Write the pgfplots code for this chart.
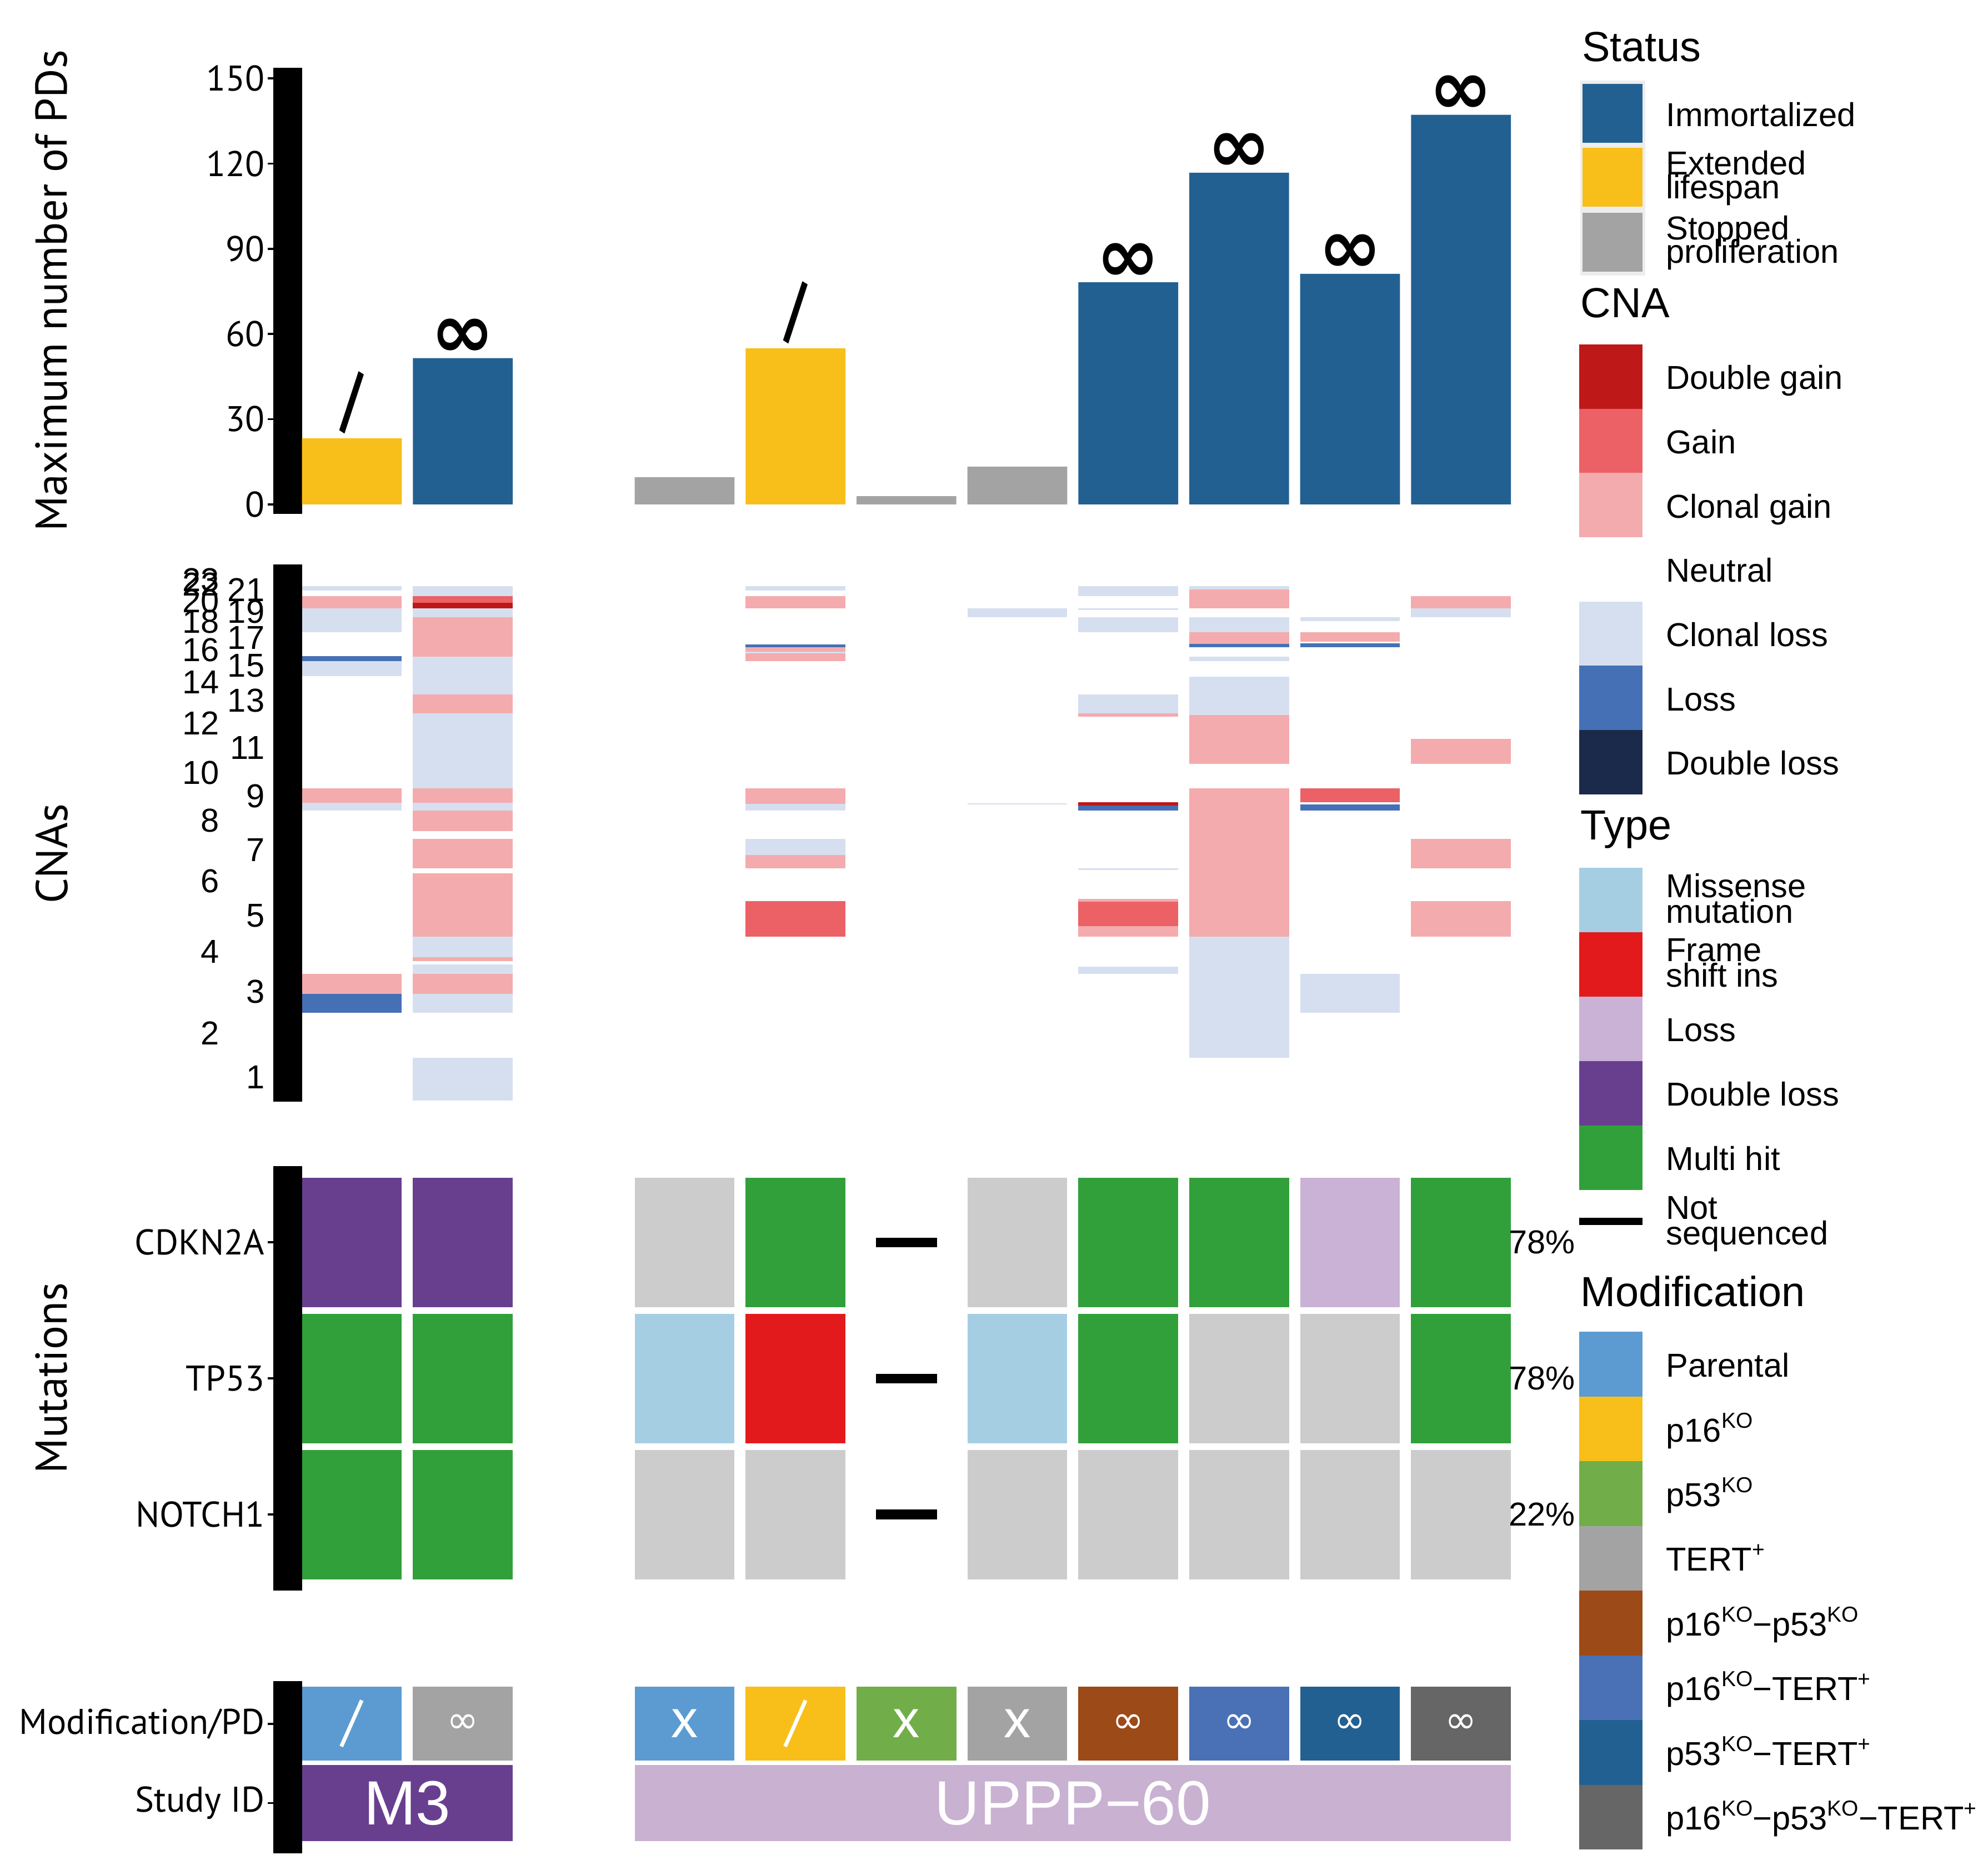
\documentclass[border=0pt]{standalone}
\usepackage{pgfplots}
\pgfplotsset{compat=1.18}
\usepackage{fontspec}
\setmainfont{Liberation Sans}
\newfontfamily\pts{PT Sans}
\newfontfamily\djv{DejaVu Sans}

% status
\definecolor{immort}{HTML}{236092}
\definecolor{ext}{HTML}{F8BF1A}
\definecolor{stopped}{HTML}{A3A3A3}
% CNA
\definecolor{dgain}{HTML}{BE1818}
\definecolor{gain}{HTML}{EB6166}
\definecolor{cgain}{HTML}{F4ABAD}
\definecolor{closs}{HTML}{D6DFEF}
\definecolor{loss}{HTML}{4570B5}
\definecolor{dloss}{HTML}{1B2A4A}
% mutation type
\definecolor{missense}{HTML}{A6CEE3}
\definecolor{frameshift}{HTML}{E31A1C}
\definecolor{mloss}{HTML}{CAB2D6}
\definecolor{mdloss}{HTML}{683F8F}
\definecolor{multihit}{HTML}{31A03A}
\definecolor{nomut}{HTML}{CCCCCC}
% modification
\definecolor{parental}{HTML}{5B9BD1}
\definecolor{pko}{HTML}{F8BF1A}
\definecolor{ptfko}{HTML}{71AE49}
\definecolor{tert}{HTML}{A3A3A3}
\definecolor{psp}{HTML}{9C4A17}
\definecolor{pst}{HTML}{4A71B5}
\definecolor{ptt}{HTML}{236092}
\definecolor{pall}{HTML}{666666}
% study
\definecolor{mthree}{HTML}{683F8F}
\definecolor{uppp}{HTML}{C9B1D2}

\pgfdeclareplotmark{mutcell}{\pgfpathrectangle{\pgfpoint{-19.58pt}{-25.4pt}}{\pgfpoint{39.16pt}{50.8pt}}\pgfusepathqfill}
\pgfdeclareplotmark{modcell}{\pgfpathrectangle{\pgfpoint{-19.58pt}{-14.55pt}}{\pgfpoint{39.16pt}{29.1pt}}\pgfusepathqfill}
\pgfdeclareplotmark{nsdash}{\pgfpathrectangle{\pgfpoint{-12pt}{-1.875pt}}{\pgfpoint{24pt}{3.75pt}}\pgfusepathqfill}

\pgfplotsset{
  panel/.style={
    scale only axis, width=474.3pt, anchor=south west,
    xmin=0.55, xmax=11.45, xtick=\empty,
    axis x line=none, axis y line*=left, y axis line style={draw=none},
    clip=false, tick align=inside, major tick length=2.25pt,
    ytick style={xshift=-13.5pt, line width=0.8pt, black},
    yticklabel style={anchor=east, inner sep=0pt, xshift=-14.5pt, font=\pts\fontsize{14}{16}\selectfont},
    /pgf/number format/assume math mode=true,
    every axis y label/.style={at={(rel axis cs:0,0.5)}, xshift=-98.25pt, rotate=90, anchor=center, font=\pts\fontsize{17.5}{20}\selectfont},
  },
  cna/.style={line width=39.16pt, unbounded coords=jump},
  mut/.style={only marks, mark=mutcell, mark options={fill=#1}},
  mod/.style={only marks, mark=modcell, mark options={fill=#1}},
}
\newcommand\blackbar{\fill[black] ([xshift=-11.25pt]rel axis cs:0,0) rectangle (rel axis cs:0,1);}
\newcommand\legfont{\fontsize{13}{14}\selectfont}
\newcommand\legtitle{\fontsize{16.5}{18}\selectfont}
\newcommand\ko{\raisebox{0.42em}{\fontsize{8.5}{9}\selectfont KO}}
\newcommand\plus{\raisebox{0.42em}{\fontsize{8.5}{9}\selectfont +}}

\begin{document}
\begin{tikzpicture}
\useasboundingbox (0,0) rectangle (780pt,-735.5pt);

% ---------------- maximum number of PDs
\begin{axis}[panel, at={(118.5pt,-201.55pt)}, height=175pt,
  ymin=-3.32, ymax=153.8, ytick={0,30,...,150},
  ylabel={Maximum number of PDs}]
\blackbar
\addplot[ybar, bar width=0.9, bar shift=0pt, fill=stopped, draw=none]
  coordinates {(4,9.6) (6,2.9) (7,13.3)};
\addplot[ybar, bar width=0.9, bar shift=0pt, fill=ext, draw=none,
  nodes near coords, point meta=explicit symbolic,
  every node near coord/.append style={anchor=south, inner sep=0pt, yshift=1.5pt, text=black, font=\pts\bfseries\fontsize{25}{25}\selectfont}]
  coordinates {(1,23.3)[{\scalebox{0.85}[1.15]{/}}] (5,55.0)[{\scalebox{0.85}[1.15]{/}}]};
\addplot[ybar, bar width=0.9, bar shift=0pt, fill=immort, draw=none,
  nodes near coords, point meta=explicit symbolic,
  every node near coord/.append style={anchor=south, inner sep=0pt, text=black, font=\djv\bfseries\fontsize{30}{30}\selectfont}]
  coordinates {(2,51.5)[∞] (8,78.2)[∞] (9,116.8)[∞] (10,81.2)[∞] (11,137.2)[∞]};
\end{axis}

% ---------------- CNAs
\begin{axis}[panel, at={(118.5pt,-432.25pt)}, height=210.75pt,
  ymin=0, ymax=2865, major tick length=0pt,
  ytick={131,587,994,1343,1630,1887,2140,2325,2476,2615,2732},
  yticklabels={1,3,5,7,9,11,13,15,17,19,21},
  extra y ticks={367,800,1176,1499,1754,2020,2238,2409,2561,2670,2761,2784},
  extra y tick labels={2,4,6,8,10,12,14,16,18,20,22,23},
  extra y tick style={yticklabel style={xshift=-17.7pt}},
  yticklabel style={font=\fontsize{13}{14}\selectfont},
  ylabel={CNAs},
  every axis y label/.append style={at={(rel axis cs:0,0.462)}}]
\blackbar
\addplot[cna, closs] coordinates {
 (1,2751)(1,2728)(1,nan) (1,2631)(1,2504)(1,nan) (1,2352)(1,2270)(1,nan) (1,1596)(1,1554)(1,nan)
 (2,2751)(2,2698)(2,nan) (2,2631)(2,2584)(2,nan) (2,2373)(2,2174)(2,nan) (2,2071)(2,1672)(2,nan)
 (2,1596)(2,1554)(2,nan) (2,882)(2,770)(2,nan) (2,732)(2,684)(2,nan) (2,576)(2,475)(2,nan) (2,234)(2,6)(2,nan)
 (5,2751)(5,2728)(5,nan) (5,2400)(5,2392)(5,nan) (5,1588)(5,1554)(5,nan) (5,1402)(5,1316)(5,nan)
 (7,2631)(7,2584)(7,nan) (7,1592)(7,1587)(7,nan)
 (8,2751)(8,2698)(8,nan) (8,2631)(8,2624)(8,nan) (8,2584)(8,2504)(8,nan) (8,2174)(8,2071)(8,nan)
 (8,1246)(8,1237)(8,nan) (8,722)(8,684)(8,nan)
 (9,2751)(9,2732)(9,nan) (9,2584)(9,2504)(9,nan) (9,2373)(9,2352)(9,nan) (9,2269)(9,2063)(9,nan) (9,882)(9,234)(9,nan)
 (10,2584)(10,2565)(10,nan) (10,684)(10,475)(10,nan)
 (11,2631)(11,2584)};
\addplot[cna, cgain] coordinates {
 (1,2698)(1,2631)(1,nan) (1,1672)(1,1596)(1,nan) (1,684)(1,576)(1,nan)
 (2,2584)(2,2373)(2,nan) (2,2174)(2,2071)(2,nan) (2,1672)(2,1596)(2,nan) (2,1554)(2,1444)(2,nan)
 (2,1402)(2,1246)(2,nan) (2,1220)(2,882)(2,nan) (2,770)(2,752)(2,nan) (2,684)(2,576)(2,nan)
 (5,2698)(5,2631)(5,nan) (5,2426)(5,2400)(5,nan) (5,2392)(5,2352)(5,nan) (5,1672)(5,1588)(5,nan) (5,1316)(5,1246)(5,nan)
 (8,2071)(8,2054)(8,nan) (8,1083)(8,1068)(8,nan) (8,937)(8,882)(8,nan)
 (9,2732)(9,2631)(9,nan) (9,2504)(9,2443)(9,nan) (9,2063)(9,1801)(9,nan) (9,1672)(9,882)(9,nan)
 (10,2504)(10,2453)(10,nan)
 (11,2698)(11,2631)(11,nan) (11,1936)(11,1801)(11,nan) (11,1402)(11,1246)(11,nan) (11,1070)(11,882)};
\addplot[cna, gain] coordinates {
 (2,2698)(2,2662)(2,nan) (5,1070)(5,882)(5,nan) (8,1068)(8,937)(8,nan) (10,1672)(10,1598)};
\addplot[cna, dgain] coordinates {
 (2,2662)(2,2631)(2,nan) (8,1598)(8,1581)};
\addplot[cna, loss] coordinates {
 (1,2377)(1,2352)(1,nan) (1,576)(1,475)(1,nan) (5,2438)(5,2426)(5,nan)
 (8,1581)(8,1554)(8,nan) (9,2443)(9,2426)(9,nan) (10,2445)(10,2426)(10,nan) (10,1585)(10,1554)};
\end{axis}

% ---------------- mutations
\begin{axis}[panel, at={(118.5pt,-623.9pt)}, height=166.55pt,
  ymin=0.442, ymax=3.562, ytick={1,2,3}, yticklabels={NOTCH1,TP53,CDKN2A},
  ylabel={Mutations}]
\blackbar
\addplot[mut=nomut] coordinates {(4,3) (7,3) (9,2) (10,2)
  (4,1) (5,1) (7,1) (8,1) (9,1) (10,1) (11,1)};
\addplot[mut=multihit] coordinates {(5,3) (8,3) (9,3) (11,3) (1,2) (2,2) (8,2) (11,2) (1,1) (2,1)};
\addplot[mut=mdloss] coordinates {(1,3) (2,3)};
\addplot[mut=mloss] coordinates {(10,3)};
\addplot[mut=missense] coordinates {(4,2) (7,2)};
\addplot[mut=frameshift] coordinates {(5,2)};
\addplot[only marks, mark=nsdash, mark options={fill=black}] coordinates {(6,3) (6,2) (6,1)};
\addplot[draw=none, nodes near coords, point meta=explicit symbolic,
  every node near coord/.append style={anchor=west, inner sep=0pt, xshift=-1pt, text=black, font=\fontsize{13}{14}\selectfont}]
  coordinates {(11.45,3)[78\%] (11.45,2)[78\%] (11.45,1)[22\%]};
\end{axis}

% ---------------- modification / study
\begin{axis}[panel, at={(118.5pt,-727pt)}, height=67.5pt,
  ymin=0.369, ymax=2.536, ytick={1,2}, yticklabels={Study ID,Modification/PD}]
\blackbar
\addplot[line width=29.7pt, mthree] coordinates {(0.55,1) (2.45,1)};
\addplot[line width=29.7pt, uppp] coordinates {(3.55,1) (11.45,1)};
\addplot[mod=parental] coordinates {(1,2) (4,2)};
\addplot[mod=tert] coordinates {(2,2) (7,2)};
\addplot[mod=pko] coordinates {(5,2)};
\addplot[mod=ptfko] coordinates {(6,2)};
\addplot[mod=psp] coordinates {(8,2)};
\addplot[mod=pst] coordinates {(9,2)};
\addplot[mod=ptt] coordinates {(10,2)};
\addplot[mod=pall] coordinates {(11,2)};
\addplot[draw=none, nodes near coords, point meta=explicit symbolic,
  every node near coord/.append style={anchor=center, inner sep=0pt, text=white, font=\pts\fontsize{22}{22}\selectfont}]
  coordinates {(1,2)[/] (2,2)[{\djv\fontsize{15}{15}\selectfont ∞}] (4,2)[x] (5,2)[/] (6,2)[x] (7,2)[x]
  (8,2)[{\djv\fontsize{15}{15}\selectfont ∞}] (9,2)[{\djv\fontsize{15}{15}\selectfont ∞}]
  (10,2)[{\djv\fontsize{15}{15}\selectfont ∞}] (11,2)[{\djv\fontsize{15}{15}\selectfont ∞}]};
\addplot[draw=none, nodes near coords, point meta=explicit symbolic,
  every node near coord/.append style={anchor=center, inner sep=0pt, text=white, font=\fontsize{24.5}{25}\selectfont}]
  coordinates {(1.5,1)[M3] (7.5,1)[UPPP−60]};
\end{axis}

% ---------------- legend
\begin{scope}[x=0.5pt, y=-0.5pt, every node/.style={inner sep=0pt, anchor=base west}]
\node[font=\legtitle] at (1241,48) {Status};
\fill[black!7] (1240,63) rectangle (1291,216);
\fill[immort] (1242,66) rectangle (1289,112);
\fill[ext] (1242,116) rectangle (1289,162);
\fill[stopped] (1242,167) rectangle (1289,213);
\node[font=\legfont] at (1307,99) {Immortalized};
\node[font=\legfont] at (1307,137) {Extended};
\node[font=\legfont] at (1307,156) {lifespan};
\node[font=\legfont] at (1307,188) {Stopped};
\node[font=\legfont] at (1307,206.5) {proliferation};

\node[font=\legtitle] at (1240,249) {CNA};
\foreach \c/\t [count=\i from 0] in {dgain/Double gain, gain/Gain, cgain/Clonal gain,
    white/Neutral, closs/Clonal loss, loss/Loss, dloss/Double loss}{
  \fill[\c] (1239,270.3+50.4*\i) rectangle (1289,320.7+50.4*\i);
  \node[font=\legfont] at (1307,305.5+50.4*\i) {\t};
}

\node[font=\legtitle] at (1240,659) {Type};
\foreach \c [count=\i from 0] in {missense,frameshift,mloss,mdloss,multihit,white}{
  \fill[\c] (1239,680.7+50.55*\i) rectangle (1289,731.25+50.55*\i);
}
\fill[black] (1239,955.5) rectangle (1289,961);
\node[font=\legfont] at (1307,704) {Missense};
\node[font=\legfont] at (1307,724) {mutation};
\node[font=\legfont] at (1307,754.5) {Frame};
\node[font=\legfont] at (1307,774.5) {shift ins};
\node[font=\legfont] at (1307,817) {Loss};
\node[font=\legfont] at (1307,867.6) {Double loss};
\node[font=\legfont] at (1307,918.1) {Multi hit};
\node[font=\legfont] at (1307,956.7) {Not};
\node[font=\legfont] at (1307,976.7) {sequenced};

\node[font=\legtitle] at (1240,1025) {Modification};
\foreach \c/\t [count=\i from 0] in {parental/Parental, pko/p16\ko,
    ptfko/p53\ko, tert/TERT\plus,
    psp/p16\ko−p53\ko, pst/p16\ko−TERT\plus,
    ptt/p53\ko−TERT\plus,
    pall/p16\ko−p53\ko−TERT\plus}{
  \fill[\c] (1239,1045+50.75*\i) rectangle (1289,1095.75+50.75*\i);
  \node[font=\legfont] at (1307,1080.4+50.75*\i) {\t};
}
\end{scope}
\end{tikzpicture}
\end{document}
